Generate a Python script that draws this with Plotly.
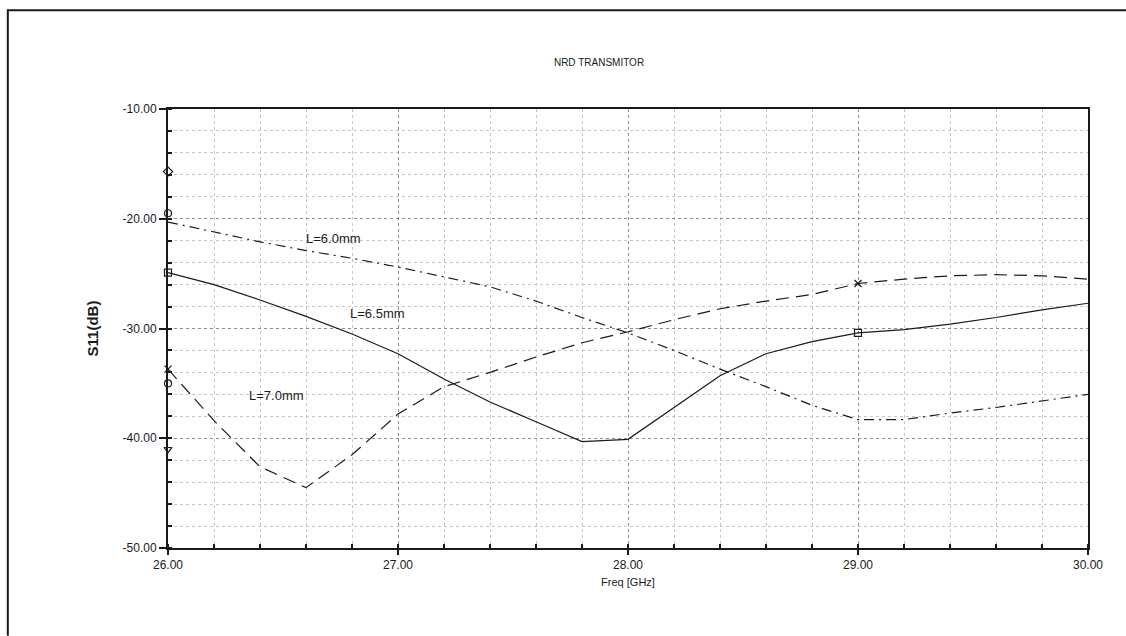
import plotly.graph_objects as go

# Frequency sweep (GHz)
freq = [26.0, 26.2, 26.4, 26.6, 26.8, 27.0, 27.2, 27.4, 27.6, 27.8, 28.0,
        28.2, 28.4, 28.6, 28.8, 29.0, 29.2, 29.4, 29.6, 29.8, 30.0]

# Return loss S11 (dB) for each stub length
s11_l60 = [-20.3, -21.2, -22.1, -22.9, -23.6, -24.4, -25.3, -26.2, -27.5, -29.0, -30.4,
           -32.0, -33.7, -35.3, -37.0, -38.3, -38.3, -37.7, -37.2, -36.6, -36.0]
s11_l65 = [-24.9, -26.0, -27.4, -28.9, -30.5, -32.3, -34.6, -36.7, -38.5, -40.3, -40.1,
           -37.2, -34.3, -32.3, -31.2, -30.4, -30.1, -29.6, -29.0, -28.3, -27.7]
s11_l70 = [-33.7, -38.4, -42.6, -44.5, -41.5, -37.8, -35.3, -34.0, -32.6, -31.3, -30.3,
           -29.2, -28.2, -27.5, -26.9, -25.9, -25.5, -25.2, -25.1, -25.2, -25.5]

series_names = ["L=6.0mm", "L=6.5mm", "L=7.0mm"]
series_dash = ["10px,5px,2px,5px", "solid", "13px,7px"]

# Trace markers drawn along the sweep
marker_freq = [26.0, 26.0, 26.0, 26.0, 26.0, 26.0, 29.0, 29.0]
marker_s11 = [-15.7, -19.5, -24.9, -33.7, -35.0, -41.0, -25.9, -30.4]
marker_symbols = ["diamond-open", "circle-open", "square-open", "x-thin-open",
                  "circle-open", "triangle-down-open", "x-thin-open", "square-open"]

# Curve label positions
label_x = [26.72, 26.91, 26.47]
label_y = [-21.8, -28.6, -36.1]

y_ticks = [-10, -20, -30, -40, -50]
x_ticks = [26, 27, 28, 29, 30]

ink = "#1a1a1a"
font_family = "Liberation Sans, Arial, sans-serif"

fig = go.Figure()
for name, ys, dash in zip(series_names, [s11_l60, s11_l65, s11_l70], series_dash):
    fig.add_trace(go.Scatter(
        x=freq, y=ys, mode="lines", name=name,
        line=dict(color=ink, width=1.2, dash=dash),
    ))

fig.add_trace(go.Scatter(
    x=marker_freq, y=marker_s11, mode="markers",
    marker=dict(symbol=marker_symbols, size=7, color=ink, line=dict(color=ink, width=1.2)),
    cliponaxis=False,
))

for txt, lx, ly in zip(series_names, label_x, label_y):
    fig.add_annotation(x=lx, y=ly, text=txt, showarrow=False,
                       font=dict(size=13, color=ink, family=font_family))

grid_style = dict(showgrid=True, gridcolor="#8c8c8c", griddash="dot", gridwidth=1)
minor_style = dict(showgrid=True, gridcolor="#c6c6c6", griddash="dot", gridwidth=1,
                   ticks="inside", ticklen=4, tickcolor=ink)

fig.update_xaxes(
    range=[26, 30], tickvals=x_ticks, ticktext=[f"{v:.2f}" for v in x_ticks],
    ticks="outside", ticklen=5, tickcolor=ink, tickwidth=1.5,
    showline=True, linecolor=ink, linewidth=2, mirror=True,
    zeroline=False, tickfont=dict(size=12, color=ink, family=font_family),
    title=dict(text="Freq [GHz]", font=dict(size=11, color=ink, family=font_family), standoff=7),
    minor=dict(dtick=0.2, **minor_style), **grid_style,
)
fig.update_yaxes(
    range=[-50, -10], tickvals=y_ticks, ticktext=[f"{v:.2f}" for v in y_ticks],
    ticks="outside", ticklen=7, tickcolor=ink, tickwidth=1.5,
    showline=True, linecolor=ink, linewidth=2, mirror=True,
    zeroline=False, tickfont=dict(size=12, color=ink, family=font_family),
    title=dict(text="<b>S11(dB)</b>", font=dict(size=15, color=ink, family=font_family), standoff=20),
    minor=dict(dtick=2, **minor_style), **grid_style,
)

# Outer frame of the report page
fig.add_shape(type="line", xref="paper", yref="paper", x0=-0.1741, x1=1.05, y0=1.225, y1=1.225,
              line=dict(color=ink, width=2))
fig.add_shape(type="line", xref="paper", yref="paper", x0=-0.1741, x1=-0.1741, y0=1.227, y1=-0.2,
              line=dict(color=ink, width=2))

fig.update_layout(
    width=1126, height=636,
    margin=dict(l=168, r=38, t=109, b=88),
    paper_bgcolor="white", plot_bgcolor="white",
    showlegend=False,
    title=dict(text="NRD TRANSMITOR", x=0.532, xanchor="center", y=0.902, yanchor="middle",
               font=dict(size=10, color=ink, family=font_family)),
)

fig.write_html("out.html")
